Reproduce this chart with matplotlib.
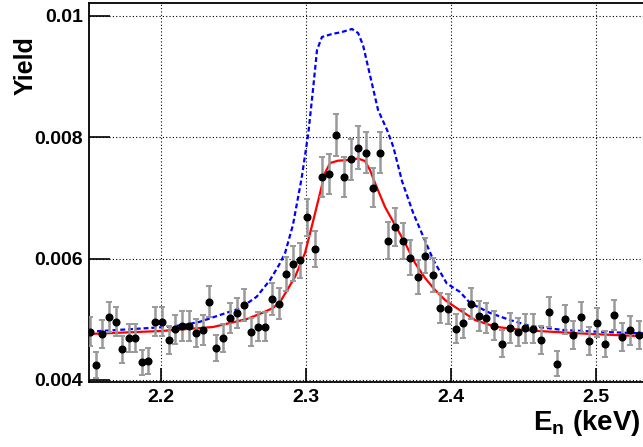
"""Yield vs neutron energy: data with error bars, fit (red) and dashed model (blue)."""
import matplotlib
import matplotlib.pyplot as plt

matplotlib.use("Agg")

plt.rcParams["font.family"] = ["Liberation Sans", "DejaVu Sans"]
plt.rcParams["font.weight"] = "bold"
plt.rcParams["mathtext.fontset"] = "custom"
plt.rcParams["mathtext.bf"] = "Liberation Sans:bold"
plt.rcParams["mathtext.rm"] = "Liberation Sans:bold"

# --- measured points ---
energy = [2.1508, 2.1552, 2.1595, 2.1641, 2.1688, 2.1733, 2.1777, 2.1823, 2.1869, 2.1912,
          2.1959, 2.2005, 2.2053, 2.2099, 2.2145, 2.2193, 2.2239, 2.2288, 2.2333, 2.2379,
          2.2428, 2.2476, 2.2524, 2.2570, 2.2619, 2.2667, 2.2717, 2.2766, 2.2814, 2.2862,
          2.2910, 2.2959, 2.3009, 2.3060, 2.3108, 2.3159, 2.3209, 2.3260, 2.3310, 2.3361,
          2.3412, 2.3462, 2.3512, 2.3563, 2.3614, 2.3667, 2.3717, 2.3770, 2.3821, 2.3876,
          2.3926, 2.3979, 2.4032, 2.4085, 2.4136, 2.4191, 2.4243, 2.4297, 2.4352, 2.4405,
          2.4460, 2.4512, 2.4568, 2.4623, 2.4677, 2.4733, 2.4788, 2.4843, 2.4899, 2.4954,
          2.5009, 2.5064, 2.5122, 2.5179, 2.5237, 2.5294]
yield_ = [0.004796, 0.004247, 0.004753, 0.005043, 0.004960, 0.004506, 0.004692, 0.004692,
          0.004292, 0.004313, 0.004960, 0.004960, 0.004659, 0.004835, 0.004890, 0.004890,
          0.004769, 0.004824, 0.005290, 0.004527, 0.004692, 0.005021, 0.005104, 0.005236,
          0.004786, 0.004878, 0.004878, 0.005339, 0.005260, 0.005751, 0.005916, 0.005972,
          0.006680, 0.006158, 0.007339, 0.007394, 0.008036, 0.007339, 0.007636, 0.007827,
          0.007745, 0.007168, 0.007745, 0.006295, 0.006516, 0.006290, 0.006015, 0.005702,
          0.006048, 0.005730, 0.005191, 0.005175, 0.004848, 0.004934, 0.005257, 0.005059,
          0.005021, 0.004895, 0.004598, 0.004857, 0.004786, 0.004852, 0.004845, 0.004659,
          0.005115, 0.004269, 0.005000, 0.004746, 0.005033, 0.004638, 0.004944, 0.004593,
          0.005071, 0.004708, 0.004819, 0.004746]
yield_err = [0.00024, 0.00021, 0.00023, 0.00025, 0.00024, 0.00022, 0.00023, 0.00023,
             0.00021, 0.00021, 0.00024, 0.00024, 0.00023, 0.00024, 0.00024, 0.00024,
             0.00023, 0.00024, 0.00026, 0.00022, 0.00023, 0.00025, 0.00025, 0.00026,
             0.00023, 0.00024, 0.00024, 0.00026, 0.00026, 0.00028, 0.00029, 0.00029,
             0.00031, 0.00030, 0.00033, 0.00033, 0.00035, 0.00033, 0.00034, 0.00035,
             0.00034, 0.00032, 0.00034, 0.00030, 0.00031, 0.00030, 0.00029, 0.00028,
             0.00029, 0.00028, 0.00025, 0.00025, 0.00024, 0.00024, 0.00026, 0.00025,
             0.00025, 0.00024, 0.00022, 0.00024, 0.00023, 0.00024, 0.00024, 0.00023,
             0.00025, 0.00021, 0.00024, 0.00023, 0.00025, 0.00023, 0.00024, 0.00022,
             0.00025, 0.00023, 0.00024, 0.00023]

# --- fit curve (red) ---
fit_e = [2.1503, 2.2000, 2.2359, 2.2593, 2.2697, 2.2772, 2.2821, 2.2855, 2.2924, 2.2993,
         2.3039, 2.3097, 2.3131, 2.3166, 2.3221, 2.3290, 2.3359, 2.3407, 2.3441, 2.3476,
         2.3545, 2.3614, 2.3683, 2.3752, 2.3821, 2.3890, 2.3959, 2.4028, 2.4166, 2.4303,
         2.4490, 2.4683, 2.4966, 2.5287, 2.5400]
fit_y = [0.004758, 0.004807, 0.004873, 0.005005, 0.005104, 0.005186, 0.005285, 0.005420,
         0.005697, 0.006092, 0.006521, 0.007081, 0.007410, 0.007575, 0.007613, 0.007624,
         0.007649, 0.007608, 0.007460, 0.007245, 0.006850, 0.006554, 0.006257, 0.005927,
         0.005680, 0.005483, 0.005318, 0.005203, 0.004988, 0.004878, 0.004824, 0.004796,
         0.004758, 0.004725, 0.004720]

# --- model curve (blue dashed) ---
mod_e = [2.1505, 2.2000, 2.2159, 2.2269, 2.2407, 2.2545, 2.2660, 2.2752, 2.2814, 2.2855,
         2.2910, 2.2970, 2.3016, 2.3048, 2.3076, 2.3110, 2.3179, 2.3248, 2.3317, 2.3359,
         2.3393, 2.3441, 2.3497, 2.3559, 2.3602, 2.3662, 2.3740, 2.3809, 2.3878, 2.3970,
         2.4062, 2.4131, 2.4269, 2.4407, 2.4545, 2.4772, 2.5007, 2.5303, 2.5400]
mod_y = [0.004796, 0.004868, 0.004906, 0.004960, 0.005071, 0.005181, 0.005372, 0.005647,
         0.005895, 0.006087, 0.006554, 0.007328, 0.008064, 0.008778, 0.009437, 0.009651,
         0.009700, 0.009733, 0.009783, 0.009717, 0.009519, 0.009025, 0.008448, 0.008119,
         0.007843, 0.007278, 0.006746, 0.006361, 0.005977, 0.005593, 0.005450, 0.005269,
         0.005104, 0.004988, 0.004890, 0.004824, 0.004796, 0.004769, 0.004765]

x_ticks = [2.2, 2.3, 2.4, 2.5]
y_ticks = [0.004, 0.006, 0.008, 0.01]
y_tick_labels = ["0.004", "0.006", "0.008", "0.01"]

fig = plt.figure(figsize=(6.43, 4.47), dpi=100)
# axes runs past the right edge of the canvas, like the cropped original
ax = fig.add_axes([88.5 / 643, 65 / 447, 580 / 643, 379.3 / 447])
ax.set_xlim(2.15, 2.55)
ax.set_ylim(0.003967, 0.010216)

ax.plot(mod_e, mod_y, color="#0000ff", lw=1.6, dashes=(2.2, 1.3), zorder=3)
ax.plot(fit_e, fit_y, color="#ff0000", lw=1.6, zorder=4)
ax.errorbar(energy, yield_, yerr=yield_err, fmt="none", ecolor="#999999",
            elinewidth=1.8, capsize=2.5, capthick=1.4, zorder=5)
ax.plot(energy, yield_, "o", color="black", ms=4.8, zorder=6)

ax.set_xticks(x_ticks)
ax.set_yticks(y_ticks)
ax.set_yticklabels(y_tick_labels)
ax.grid(True, color="black", lw=0.8, linestyle=(0, (1, 2)))
ax.tick_params(axis="x", direction="in", length=10, width=1.2, labelsize=14, pad=5)
ax.tick_params(axis="y", direction="in", length=15, width=1.2, labelsize=14, pad=4)
for lab in ax.get_xticklabels() + ax.get_yticklabels():
    lab.set_fontweight("bold")

for side in ("left", "bottom", "top"):
    ax.spines[side].set_linewidth(1.3)
ax.spines["right"].set_visible(False)

fig.text(26 / 643, 1 - 66 / 447, "Yield", rotation=90, ha="center", va="center",
         fontsize=18, fontweight="bold")
fig.text(641 / 643, 1 - 423 / 447, r"$\mathbf{E_n}$ (keV)", ha="right", va="center",
         fontsize=20, fontweight="bold")

fig.savefig("out.png", dpi=100)
plt.close(fig)
